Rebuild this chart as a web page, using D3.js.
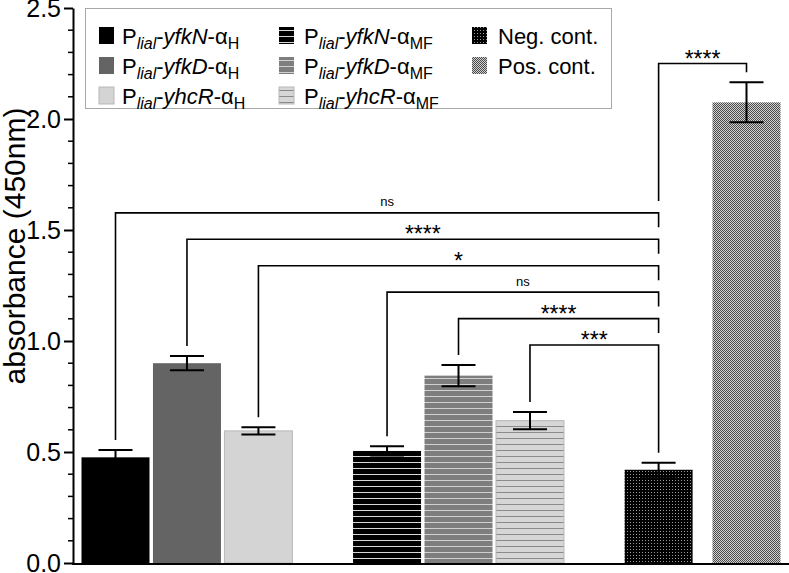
<!DOCTYPE html>
<html>
<head>
<meta charset="utf-8">
<script src="https://cdn.jsdelivr.net/npm/d3@7"></script>
<style>
  body { margin: 0; background: #fff; }
  svg { display: block; font-family: "Liberation Sans", Arial, sans-serif; }
</style>
</head>
<body>
<div id="chart"></div>
<script>
// data
var categories = ["yfkN-H", "yfkD-H", "yhcR-H", "yfkN-MF", "yfkD-MF", "yhcR-MF", "Neg. cont.", "Pos. cont."]
var genes = ["yfkN", "yfkD", "yhcR", "yfkN", "yfkD", "yhcR"]
var variants = ["H", "H", "H", "MF", "MF", "MF"]
var groups = [0, 0, 0, 1, 1, 1, 2, 2]
var means = [0.476, 0.900, 0.595, 0.505, 0.844, 0.641, 0.420, 2.075]
var errors = [0.033, 0.032, 0.016, 0.021, 0.048, 0.039, 0.032, 0.090]
var compFrom = [0, 1, 2, 3, 4, 5, 6]
var compTo = [6, 6, 6, 6, 6, 6, 7]
var compLabels = ["ns", "****", "*", "ns", "****", "***", "****"]
var yTicks = [0, 0.5, 1.0, 1.5, 2.0, 2.5]

var fills = ["#000", "#646464", "#d4d4d4", "url(#stripeBlack)", "url(#stripeGray)",
             "url(#stripeLight)", "url(#dots)", "url(#checker)"]

document.addEventListener("DOMContentLoaded", function() {
  draw()
});

function slot(i) {
  var g = groups[i]
  var k = i - groups.indexOf(g)
  return g * 3.8 + k * (g == 2 ? 1.23 : 1)
}

function draw() {
  var width = 789, height = 573
  var axisX = 73

  var svg = d3.select("#chart").append("svg")
    .attr("width", width)
    .attr("height", height)

  var defs = svg.append("defs")
  function stripe(id, bg, line) {
    var p = defs.append("pattern").attr("id", id)
      .attr("patternUnits", "userSpaceOnUse").attr("width", 8).attr("height", 6)
    p.append("rect").attr("width", 8).attr("height", 6).attr("fill", bg)
    p.append("rect").attr("y", 0).attr("width", 8).attr("height", 1).attr("fill", line)
  }
  stripe("stripeBlack", "#000", "#d8d8d8")
  stripe("stripeGray", "#7e7e7e", "#d0d0d0")
  stripe("stripeLight", "#d6d6d6", "#8a8a8a")

  var dots = defs.append("pattern").attr("id", "dots")
    .attr("patternUnits", "userSpaceOnUse").attr("width", 3).attr("height", 3)
  dots.append("rect").attr("width", 3).attr("height", 3).attr("fill", "#000")
  dots.append("rect").attr("width", 1).attr("height", 1).attr("fill", "#9a9a9a")

  var checker = defs.append("pattern").attr("id", "checker")
    .attr("patternUnits", "userSpaceOnUse").attr("width", 2).attr("height", 2)
  checker.append("rect").attr("width", 2).attr("height", 2).attr("fill", "#d2d2d2")
  checker.append("rect").attr("width", 1).attr("height", 1).attr("fill", "#4a4a4a")
  checker.append("rect").attr("x", 1).attr("y", 1).attr("width", 1).attr("height", 1).attr("fill", "#4a4a4a")

  var y = d3.scaleLinear().domain([0, 2.5]).range([563, 8])
  var x = d3.scaleLinear().domain([0, slot(7)]).range([115.5, 746.5])
  var barW = 68

  // bars
  svg.selectAll("rect.bar")
    .data(means)
    .enter()
    .append("rect")
    .attr("class", "bar")
    .attr("x", function(d, i) { return x(slot(i)) - barW / 2 })
    .attr("y", function(d) { return y(d) })
    .attr("width", barW)
    .attr("height", function(d) { return y(0) - y(d) })
    .attr("fill", function(d, i) { return fills[i] })
    .attr("stroke", function(d, i) { return (i == 2 || i == 5) ? "#b8b8b8" : "none" })
    .attr("stroke-width", 1)

  // error bars
  var eb = svg.append("g").attr("stroke", "#000").attr("stroke-width", 2).attr("fill", "none")
  means.forEach(function(m, i) {
    var cx = x(slot(i))
    eb.append("line").attr("x1", cx).attr("x2", cx).attr("y1", y(m - errors[i])).attr("y2", y(m + errors[i]))
    eb.append("line").attr("x1", cx - 17).attr("x2", cx + 17).attr("y1", y(m + errors[i])).attr("y2", y(m + errors[i]))
    eb.append("line").attr("x1", cx - 17).attr("x2", cx + 17).attr("y1", y(m - errors[i])).attr("y2", y(m - errors[i]))
  })

  // significance brackets
  var lineY = compFrom.map(function(f, i) {
    return compTo[i] == 7 ? y(2.25) : y(0.982 + (5 - i) * 0.119)
  })
  function legEnd(k, bi) {
    var px = x(slot(k))
    var end = y(means[k] + errors[k]) - 10
    lineY.forEach(function(ly, j) {
      if (j == bi || ly <= lineY[bi]) return
      var a = x(slot(compFrom[j])), b = x(slot(compTo[j]))
      if (px >= Math.min(a, b) - 1 && px <= Math.max(a, b) + 1) end = Math.min(end, ly - 12)
    })
    return end
  }
  var br = svg.append("g")
  compFrom.forEach(function(f, i) {
    var t = compTo[i]
    var x1 = x(slot(f)), x2 = x(slot(t))
    br.append("path")
      .attr("d", "M" + x1 + "," + legEnd(f, i) + "V" + lineY[i] + "H" + x2 + "V" + legEnd(t, i))
      .attr("fill", "none").attr("stroke", "#000").attr("stroke-width", 1.6)
    var isNs = compLabels[i] == "ns"
    br.append("text")
      .attr("x", (x1 + x2) / 2)
      .attr("y", isNs ? lineY[i] - 6.5 : lineY[i] + 3)
      .attr("text-anchor", "middle")
      .attr("font-size", isNs ? 13 : 23)
      .text(compLabels[i])
  })

  // axes
  var yAxis = d3.axisLeft(y).tickValues(yTicks).tickFormat(d3.format(".1f"))
    .tickSize(9).tickSizeOuter(0).tickPadding(3)
  var ga = svg.append("g").attr("transform", "translate(" + axisX + ",0)").call(yAxis)
  ga.select(".domain").attr("stroke-width", 2)
  ga.selectAll(".tick line").attr("stroke-width", 2)
  ga.selectAll(".tick text").attr("font-size", 25).attr("fill", "#000")
    .attr("font-family", "Liberation Sans, Arial, sans-serif")

  var minor = y.ticks(25).filter(function(v) { return yTicks.indexOf(+v.toFixed(1)) < 0 })
  svg.append("g").selectAll("line")
    .data(minor)
    .enter()
    .append("line")
    .attr("x1", axisX - 5).attr("x2", axisX)
    .attr("y1", function(d) { return y(d) }).attr("y2", function(d) { return y(d) })
    .attr("stroke", "#000").attr("stroke-width", 1.5)

  svg.append("line")
    .attr("x1", axisX - 1).attr("x2", width)
    .attr("y1", y(0) + 1).attr("y2", y(0) + 1)
    .attr("stroke", "#000").attr("stroke-width", 2)

  svg.append("text")
    .attr("transform", "translate(25,246) rotate(-90)")
    .attr("text-anchor", "middle")
    .attr("font-size", 30)
    .text("absorbance (450nm)")

  // legend
  var lg = svg.append("g")
  lg.append("rect").attr("x", 85.5).attr("y", 8.5).attr("width", 526).attr("height", 100)
    .attr("fill", "#fff").attr("stroke", "#a8a8a8").attr("stroke-width", 1)
  var colSw = [99, 279, 472], colTx = [122, 304, 498], rowY = [36, 66, 96]
  categories.forEach(function(c, i) {
    var col = Math.floor(i / 3), row = i % 3
    lg.append("rect")
      .attr("x", colSw[col]).attr("y", rowY[row] - 9)
      .attr("width", 15).attr("height", 17)
      .attr("fill", fills[i])
      .attr("stroke", (i == 2 || i == 5) ? "#b8b8b8" : "none")
    var t = lg.append("text").attr("x", colTx[col]).attr("y", rowY[row] + 8).attr("font-size", 22)
    if (i < 6) {
      t.append("tspan").text("P")
      t.append("tspan").attr("font-size", 16).attr("font-style", "italic").attr("dy", 5).text("lial")
      t.append("tspan").attr("dy", -5).text("-")
      t.append("tspan").attr("font-style", "italic").text(genes[i])
      t.append("tspan").text("-α")
      t.append("tspan").attr("font-size", 16).attr("dy", 5).text(variants[i])
    } else {
      t.text(c)
    }
  })
}
</script>
</body>
</html>
